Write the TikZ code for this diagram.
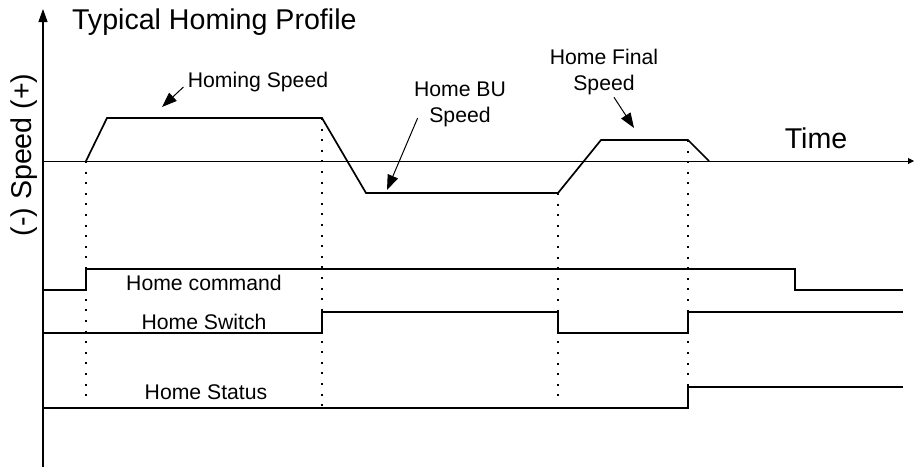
\documentclass[tikz,border=0pt]{standalone}
\usepackage{fontspec}
\setmainfont{Liberation Sans}
\usetikzlibrary{arrows.meta}

\begin{document}
\begin{tikzpicture}[x = 0.5pt, y = -0.5pt,
    profile/.style = {line width = 0.85pt, line join = miter},
    signal/.style = {line width = 0.8pt},
    marker/.style = {line width = 1pt, dash pattern = on 1pt off 4.3pt},
    pointer/.style = {line width = 0.5pt, -{Triangle[length = 7.5pt, width = 5.5pt]}},
    big/.style = {font = \fontsize{14.3}{17}\selectfont},
    small/.style = {font = \fontsize{10.6}{13}\selectfont, inner sep = 1pt, align = center}]
    \useasboundingbox (0,0) rectangle (914,467);
    % axes
    \draw[line width = 0.6pt, -{Triangle[length = 6.5pt, width = 4.5pt]}] (43,467) -- (43,9);
    \draw[line width = 0.5pt, -{Triangle[length = 3pt, width = 3pt]}] (43,161) -- (914,161);
    \node[big, anchor = west] (title) at (65,22) {Typical Homing Profile};
    \node[big, rotate = 90] (speed) at (24,155) {(-) Speed (+)};
    \node[big] (time) at (816,138) {Time};
    % speed profile
    \coordinate (p0) at (86,161);
    \coordinate (p1) at (107,118);
    \coordinate (p2) at (322,118);
    \coordinate (p3) at (366,193);
    \coordinate (p4) at (558,193);
    \coordinate (p5) at (601,140);
    \coordinate (p6) at (688,140);
    \coordinate (p7) at (709,161);
    \draw[profile] (p0) -- (p1) -- (p2) -- (p3) -- (p4) -- (p5) -- (p6) -- (p7);
    % event markers
    \draw[marker] (p0) -- (86,402);
    \draw[marker] (p2) -- (322,408);
    \draw[marker] (p4) -- (558,402);
    \draw[marker] (p6) -- (688,387);
    % signals
    \draw[signal] (43,290) -- (86,290) -- (86,269) -- (795,269) -- (795,290) -- (903,290);
    \draw[signal] (43,333) -- (322,333) -- (322,312) -- (558,312) -- (558,333) -- (688,333) -- (688,312) -- (903,312);
    \draw[signal] (43,408) -- (688,408) -- (688,387) -- (903,387);
    \node[small] (cmd) at (204,283) {Home command};
    \node[small] (sw) at (204,322) {Home Switch};
    \node[small] (st) at (206,392) {Home Status};
    % speed labels
    \node[small] (hs) at (258,82) {Homing Speed};
    \node[small] (bu) at (460,104) {Home BU\\Speed};
    \node[small] (hf) at (604,72) {Home Final\\Speed};
    \coordinate (hsTip) at (162,107);
    \coordinate (buTip) at (387,190);
    \coordinate (hfTip) at (634,128);
    \draw[pointer] ([shift = {(-1pt,-2.5pt)}]hs.west) -- (hsTip);
    \draw[pointer] ([shift = {(3pt,-7pt)}]bu.west) -- (buTip);
    \draw[pointer] ([xshift = 5pt]hf.south) -- (hfTip);
  \end{tikzpicture}
\end{document}
